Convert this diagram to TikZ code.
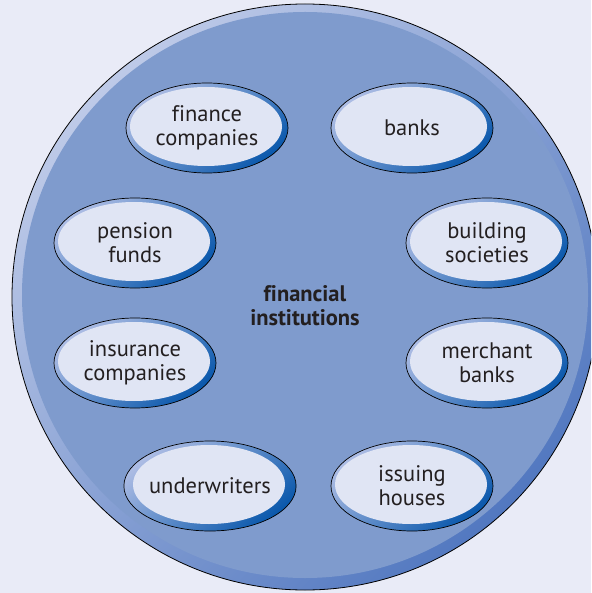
\documentclass[tikz,border=0pt]{standalone}
\usepackage{fontspec}
\setmainfont{PT Sans}[Ligatures=CommonOff]
\usetikzlibrary{shapes.geometric, positioning}
\definecolor{PageBg}{RGB}{233,235,247}
\definecolor{CircFill}{RGB}{127,155,205}
\definecolor{CircLight}{RGB}{190,202,232}
\definecolor{CircDark}{RGB}{82,120,192}
\definecolor{EllFill}{RGB}{224,229,244}
\definecolor{EllLight}{RGB}{172,188,228}
\definecolor{EllDark}{RGB}{10,88,172}
\definecolor{InkDark}{RGB}{35,31,32}

\begin{document}
\begin{tikzpicture}[x=1pt, y=-1pt]
      \tikzstyle{inst} = [ellipse, draw=black, line width=0.7pt, minimum width=162pt, minimum height=90pt, inner sep=0pt, top color=EllLight, bottom color=EllDark, shading angle=40, align=center, text=InkDark, font=\fontsize{22.5}{24}\selectfont, path picture={\fill[EllFill] ([xshift=-1pt, yshift=1.5pt]path picture bounding box.center) ellipse [x radius=76pt, y radius=39.5pt];}]

      % Page
      \clip (0,0) rectangle (591,593);
      \fill[PageBg] (0,0) rectangle (591,593);

      % Outer circle
      \path[top color=CircLight, bottom color=CircDark, shading angle=45] (305,297) circle [radius=293];
      \fill[CircFill] (305,295) circle [radius=283];
      \draw[line width=0.8pt] (305,297) circle [radius=293];

      % Centre label
      \node (fi) at (305,306) [align=center, text=InkDark, font=\bfseries\fontsize{22.5}{24}\selectfont] {financial\\institutions};

      % Left ring
      \node (fin) [inst] at (207,128) {finance\\companies};
      \node (pen) [inst] at (135,243) {pension\\funds};
      \node (ins) [inst] at (135,363) {insurance\\companies};
      \node (und) [inst] at (210,486) {underwriters};

      % Right ring
      \node (bnk) [inst] at (412,128) {banks};
      \node (bsoc) [inst] at (487,243) {building\\societies};
      \node (mer) [inst] at (487,363) {merchant\\banks};
      \node (iss) [inst] at (412,486) {issuing\\houses};
\end{tikzpicture}
\end{document}
